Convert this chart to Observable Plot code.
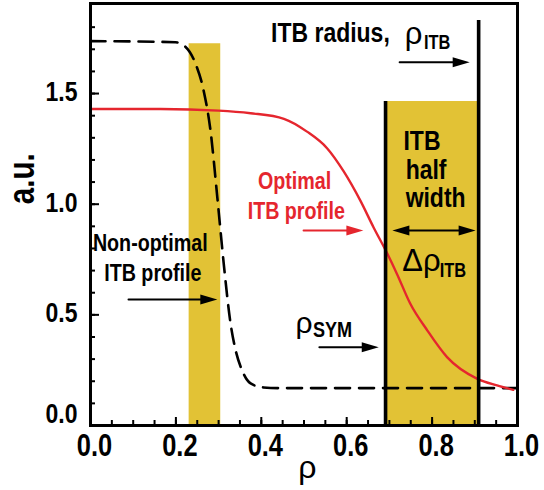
<!DOCTYPE html>
<html><head><meta charset="utf-8">
<script src="https://cdn.jsdelivr.net/npm/d3@7"></script>
<script src="https://cdn.jsdelivr.net/npm/@observablehq/plot@0.6"></script>
<style>
html,body{margin:0;padding:0;background:#fff;}
#chart svg{display:block;background:#fff;}
</style>
</head><body><div id="chart"></div>
<script>
// ---------- data ----------
const nonOptRho = [0, 0.199, 0.222, 0.246, 0.265, 0.281, 0.297, 0.312, 0.328, 0.340, 0.355, 0.375, 0.405, 0.445, 1.0];
const nonOptVal = [1.737, 1.732, 1.712, 1.635, 1.513, 1.333, 1.031, 0.732, 0.461, 0.339, 0.249, 0.190, 0.172, 0.169, 0.169];

const optRho = [0, 0.164, 0.30, 0.375, 0.453, 0.507, 0.554, 0.593, 0.632, 0.663, 0.693, 0.718, 0.749, 0.789, 0.835, 0.906, 0.952, 0.99];
const optVal = [1.43, 1.43, 1.423, 1.411, 1.386, 1.328, 1.253, 1.148, 1.016, 0.895, 0.785, 0.684, 0.550, 0.429, 0.309, 0.211, 0.181, 0.161];

const bandStart = [0.231, 0.691];
const bandEnd   = [0.305, 0.909];
const bandTop   = [1.725, 1.464];

const markerRho = [0.691, 0.909];   // rho_SYM line, rho_ITB line
const markerTop = [1.464, 1.830];

const xTickValues = [0, 0.2, 0.4, 0.6, 0.8, 1.0];
const xTickLabels = ["0.0", "0.2", "0.4", "0.6", "0.8", "1.0"];
const yTickValues = [0, 0.5, 1.0, 1.5];
const yTickLabels = ["0.0", "0.5", "1.0", "1.5"];

// annotation arrows (data coordinates)
const arrowX1 = [0.089, 0.499, 0.536, 0.724, 0.707];
const arrowX2 = [0.297, 0.639, 0.675, 0.888, 0.902];
const arrowY  = [0.569, 0.881, 0.354, 1.642, 0.881];
const arrowRed = [false, true, false, false, false];
const arrowDouble = [false, false, false, false, true];

// ---------- styling ----------
const W = 544, H = 490;
const mL = 90, mR = 27, mT = 3, mB = 65;
const plotW = W - mL - mR, plotH = H - mT - mB;
const RED = "#e5262e", GOLD = "#e2c235";
const BOLD = "'Liberation Sans',Arial,sans-serif";
const SANS = "'Liberation Sans',Arial,sans-serif";
const CONDENSE = 0.82;   // horizontal squeeze to mimic a condensed bold face

const nonOpt = nonOptRho.map((x, i) => ({x, y: nonOptVal[i]}));
const opt = optRho.map((x, i) => ({x, y: optVal[i]}));
const bands = bandStart.map((x1, i) => ({x1, x2: bandEnd[i], y: bandTop[i]}));
const markers = markerRho.map((x, i) => ({x, y: markerTop[i]}));
const arrows = arrowX1.map((x1, i) => ({x1, x2: arrowX2[i], y: arrowY[i], red: arrowRed[i], dbl: arrowDouble[i]}));
const heads = [];
arrows.forEach(a => {
  heads.push({x: a.x2, y: a.y, rot: 90, red: a.red});
  if (a.dbl) heads.push({x: a.x1, y: a.y, rot: -90, red: a.red});
});

const xMinor = d3.range(1, 20).map(i => i / 20);
const xMajor = xTickValues.filter(v => v > 0 && v < 1);
const yMinor = d3.range(1, 19).map(i => i / 10);
const yMajor = yTickValues.filter(v => v > 0);

// text annotations: [text, x, baseline y, size]
const bigText = [["ITB radius,", 0.423, 1.732, 28], ["ITB", 0.733, 1.243, 28], ["half", 0.738, 1.112, 28], ["width", 0.738, 0.986, 28]];
const greekText = [["ρ", 0.736, 1.726, 31], ["Δρ", 0.730, 0.700, 31], ["ρ", 0.480, 0.420, 30]];
const subText = [["ITB", 0.781, 1.702, 20], ["ITB", 0.818, 0.673, 20], ["SYM", 0.521, 0.402, 22]];
const blackLabel = [["Non-optimal", 0.140, 0.788, 24], ["ITB profile", 0.146, 0.651, 24]];
const redLabel = [["Optimal", 0.478, 1.070, 24], ["ITB profile", 0.482, 0.934, 24]];
const toRows = arr => arr.map(([t, x, y, s]) => ({t, x, y, s}));

function textMark(arr, opts) {
  return Plot.text(toRows(arr), {x: "x", y: "y", text: "t", fontSize: "s", lineAnchor: "bottom", ...opts});
}

const chart = Plot.plot({
  width: W, height: H,
  marginLeft: mL, marginRight: mR, marginTop: mT, marginBottom: mB,
  x: {domain: [0, 1]},
  y: {domain: [0, (H - mB - mT) / 221.3]},
  marks: [
    Plot.rectY(bands, {x1: "x1", x2: "x2", y: "y", fill: GOLD}),
    Plot.line(nonOpt, {x: "x", y: "y", stroke: "black", strokeWidth: 2.6, strokeDasharray: "15,9", curve: "monotone-x"}),
    Plot.line(opt, {x: "x", y: "y", stroke: RED, strokeWidth: 2.4, curve: "monotone-x"}),
    Plot.ruleX(markers, {x: "x", y1: 0, y2: "y", stroke: "black", strokeWidth: 3.6}),
    // axis ticks (inward)
    Plot.ruleX(xMinor, {x: d => d, insetTop: plotH - 5, stroke: "black", strokeWidth: 2}),
    Plot.ruleX(xMajor, {x: d => d, insetTop: plotH - 8, stroke: "black", strokeWidth: 2}),
    Plot.ruleY(yMinor, {y: d => d, insetRight: plotW - 5, stroke: "black", strokeWidth: 2}),
    Plot.ruleY(yMajor, {y: d => d, insetRight: plotW - 9, stroke: "black", strokeWidth: 2}),
    Plot.frame({stroke: "black", strokeWidth: 3}),
    // tick labels
    Plot.axisX(xTickValues, {tickSize: 0, tickPadding: 8, dx: 4, label: null,
      tickFormat: d => xTickLabels[xTickValues.indexOf(d)],
      fontSize: 31, fontFamily: BOLD, fontWeight: "bold", fill: "black"}),
    Plot.axisY(yTickValues.slice(1), {tickSize: 0, tickPadding: 13, dy: -1.5, label: null,
      tickFormat: d => yTickLabels[yTickValues.indexOf(d)],
      fontSize: 28, fontFamily: BOLD, fontWeight: "bold", fill: "black"}),
    Plot.axisY(yTickValues.slice(0, 1), {tickSize: 0, tickPadding: 13, dy: -11, label: null,
      tickFormat: d => yTickLabels[yTickValues.indexOf(d)],
      fontSize: 28, fontFamily: BOLD, fontWeight: "bold", fill: "black"}),
    // axis titles
    Plot.text(["ρ"], {x: () => 0.508, frameAnchor: "bottom", dy: 52, lineAnchor: "bottom",
      fontSize: 32, fontFamily: SANS, fill: "black"}),
    Plot.text(["a.u."], {y: () => 1.0, frameAnchor: "left", dx: -57, rotate: -90, lineAnchor: "bottom",
      fontSize: 36, fontFamily: BOLD, fontWeight: "bold", fill: "black"}),
    // annotations
    textMark(bigText, {fontFamily: BOLD, fontWeight: "bold", textAnchor: "start", fill: "black"}),
    textMark(greekText, {fontFamily: SANS, textAnchor: "start", fill: "black"}),
    textMark(subText, {fontFamily: BOLD, fontWeight: "bold", textAnchor: "start", fill: "black"}),
    textMark(blackLabel, {fontFamily: BOLD, fontWeight: "bold", textAnchor: "middle", fill: "black"}),
    textMark(redLabel, {fontFamily: BOLD, fontWeight: "bold", textAnchor: "middle", fill: RED}),
    // arrows: shafts + filled heads
    Plot.arrow(arrows.filter(a => !a.dbl), {x1: "x1", x2: "x2", y1: "y", y2: "y", headLength: 0, insetEnd: 12,
      stroke: a => a.red ? RED : "black", strokeWidth: 2}),
    Plot.arrow(arrows.filter(a => a.dbl), {x1: "x1", x2: "x2", y1: "y", y2: "y", headLength: 0, insetEnd: 12, insetStart: 12,
      stroke: "black", strokeWidth: 2}),
    Plot.vector(heads, {x: "x", y: "y", rotate: "rot", length: 17, r: 5, shape: "spike", anchor: "end",
      fill: d => d.red ? RED : "black", stroke: "none"})
  ]
});
document.getElementById("chart").appendChild(chart);

// squeeze the bold texts horizontally (condensed look of the original face)
chart.querySelectorAll("text").forEach(t => {
  const fw = getComputedStyle(t).fontWeight;
  if (fw === "bold" || +fw >= 600) {
    const w = t.getComputedTextLength();
    if (w > 0) {
      t.setAttribute("textLength", (w * CONDENSE).toFixed(2));
      t.setAttribute("lengthAdjust", "spacingAndGlyphs");
    }
  }
});
</script>
</body></html>
